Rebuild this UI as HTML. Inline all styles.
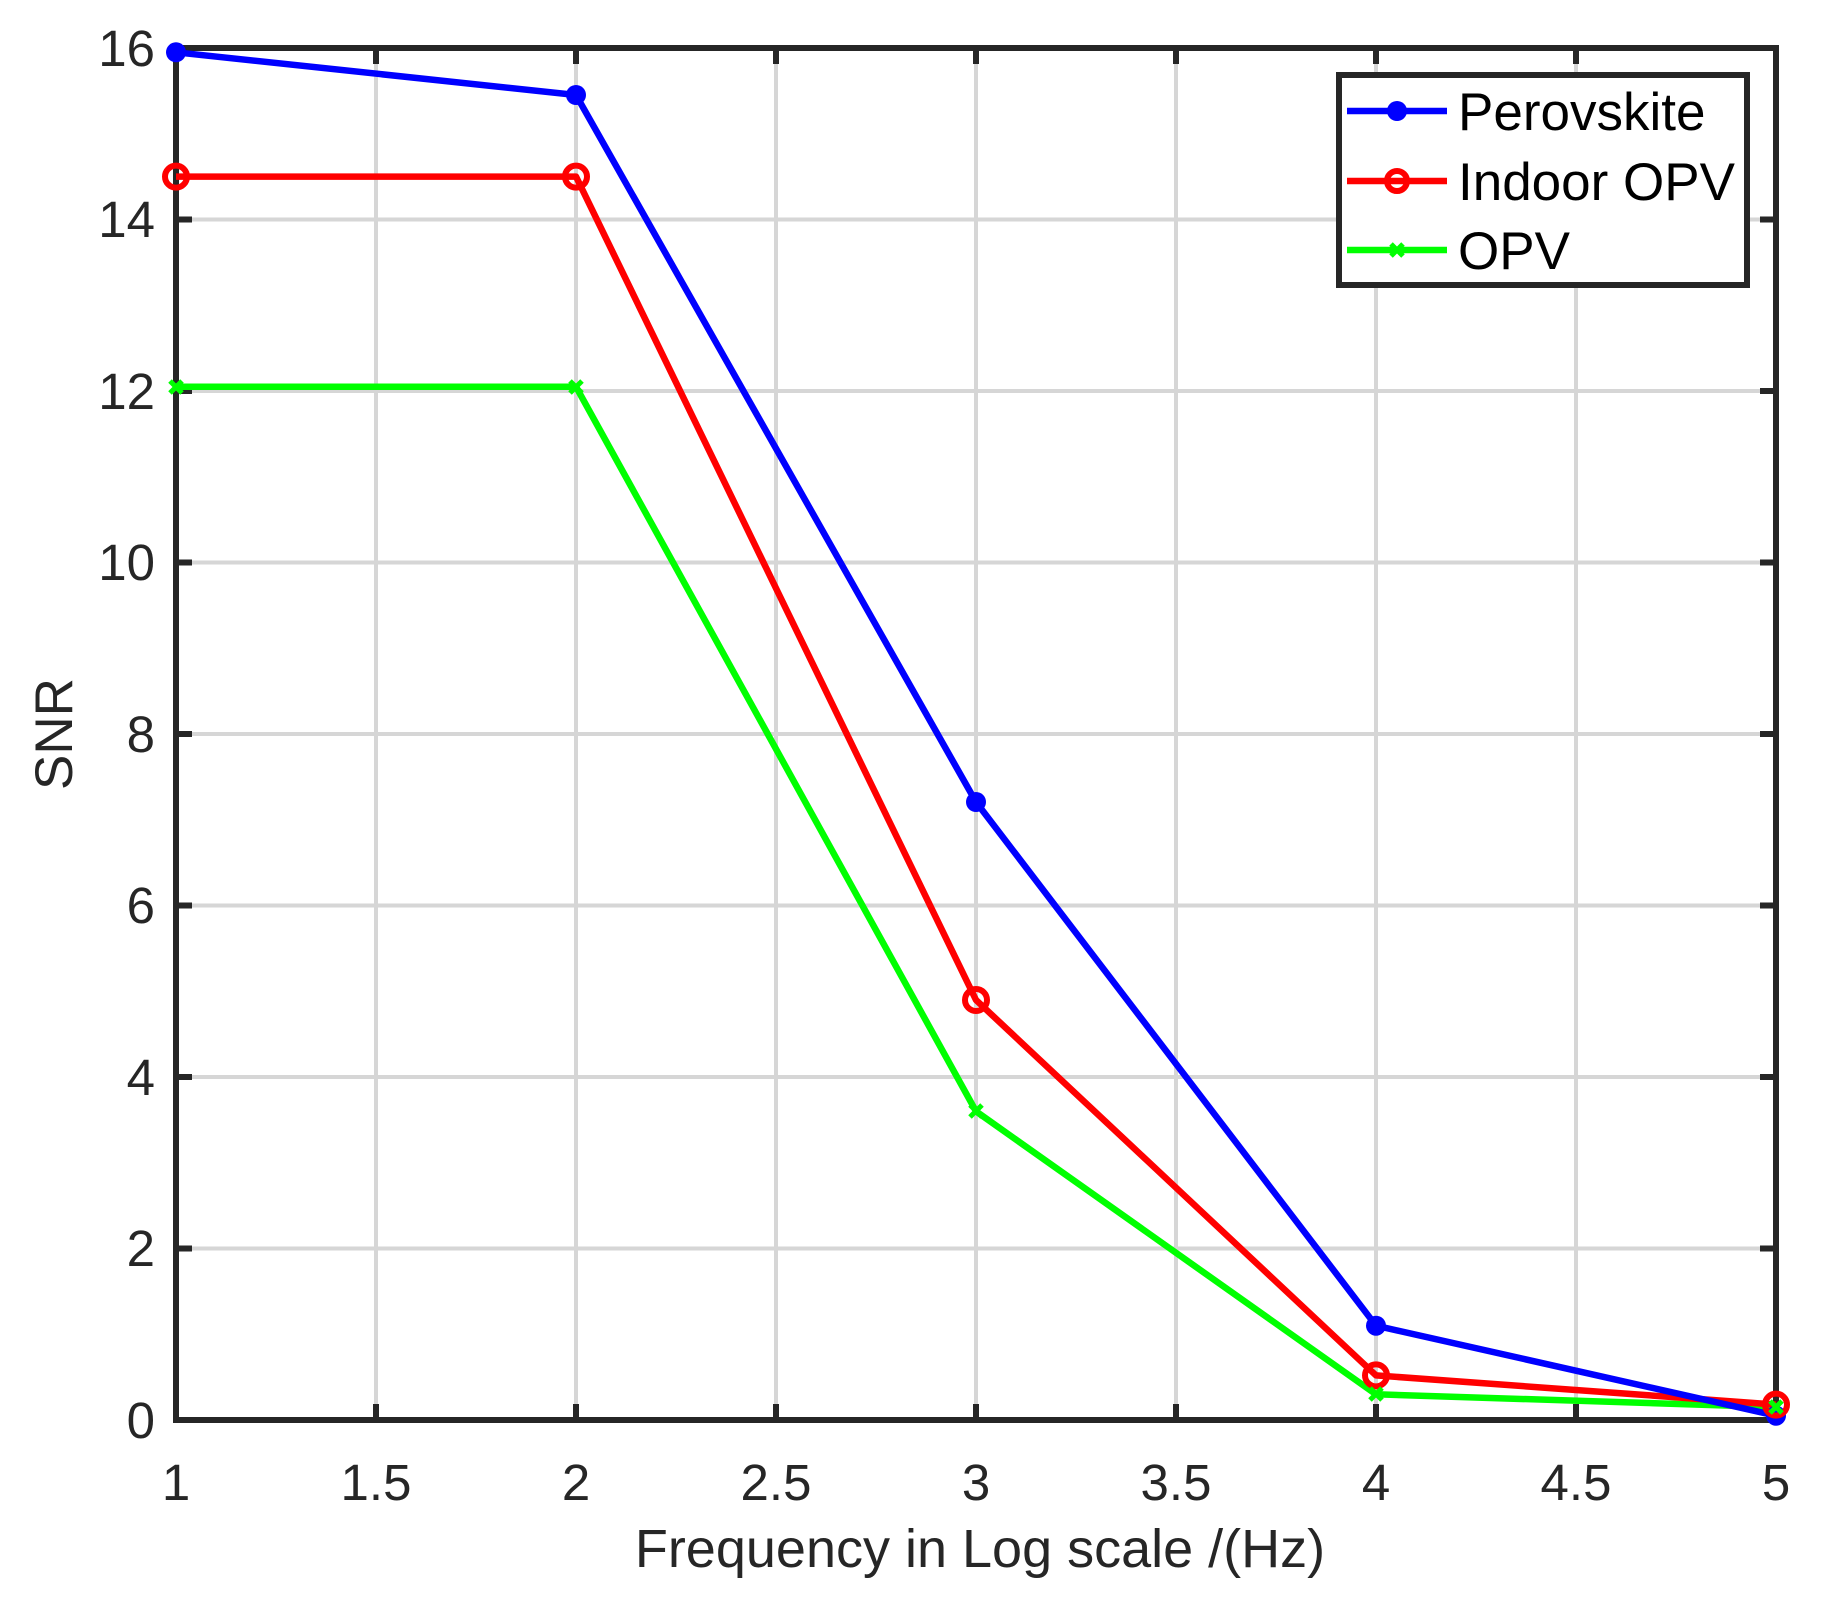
<!DOCTYPE html>
<html><head><meta charset="utf-8"><style>html,body{margin:0;padding:0;background:#fff}</style></head>
<body>
<svg width="1822" height="1608" xmlns="http://www.w3.org/2000/svg" font-family="Liberation Sans, Arial, sans-serif">
<rect width="1822" height="1608" fill="#fff"/>
<g stroke="#d6d6d6" stroke-width="4">
<line x1="376" y1="48" x2="376" y2="1420"/><line x1="576" y1="48" x2="576" y2="1420"/><line x1="776" y1="48" x2="776" y2="1420"/><line x1="976" y1="48" x2="976" y2="1420"/><line x1="1176" y1="48" x2="1176" y2="1420"/><line x1="1376" y1="48" x2="1376" y2="1420"/><line x1="1576" y1="48" x2="1576" y2="1420"/>
<line x1="176" y1="1248.5" x2="1776" y2="1248.5"/><line x1="176" y1="1077" x2="1776" y2="1077"/><line x1="176" y1="905.5" x2="1776" y2="905.5"/><line x1="176" y1="734" x2="1776" y2="734"/><line x1="176" y1="562.5" x2="1776" y2="562.5"/><line x1="176" y1="391" x2="1776" y2="391"/><line x1="176" y1="219.5" x2="1776" y2="219.5"/>
</g>
<g stroke="#262626" stroke-width="6">
<rect x="176" y="48" width="1600" height="1372" fill="none"/>
<path d="M376 1420v-16M576 1420v-16M776 1420v-16M976 1420v-16M1176 1420v-16M1376 1420v-16M1576 1420v-16M376 48v16M576 48v16M776 48v16M976 48v16M1176 48v16M1376 48v16M1576 48v16"/>
<path d="M176 1248.5h16M176 1077h16M176 905.5h16M176 734h16M176 562.5h16M176 391h16M176 219.5h16M1776 1248.5h-16M1776 1077h-16M1776 905.5h-16M1776 734h-16M1776 562.5h-16M1776 391h-16M1776 219.5h-16"/>
</g>
<g fill="none" stroke-width="6.5" stroke-linejoin="round">
<polyline stroke="#00ff00" points="176,386.7 576,386.7 976,1111.3 1376,1394.3 1776,1407.1"/>
<polyline stroke="#ff0000" points="176,176.6 576,176.6 976,1000.0 1376,1375.4 1776,1404.6"/>
<polyline stroke="#0000ff" points="176,52.3 576,95 976,802 1376,1325.7 1776,1415.7"/>
</g>
<g fill="#0000ff"><circle cx="176" cy="52.3" r="10"/><circle cx="576" cy="95" r="10"/><circle cx="976" cy="802" r="10"/><circle cx="1376" cy="1325.7" r="10"/><circle cx="1776" cy="1415.7" r="10"/></g>
<g fill="none" stroke="#ff0000" stroke-width="6"><circle cx="176" cy="176.6" r="11"/><circle cx="576" cy="176.6" r="11"/><circle cx="976" cy="1000" r="11"/><circle cx="1376" cy="1375.4" r="11"/><circle cx="1776" cy="1404.6" r="11"/></g>
<g stroke="#00ff00" stroke-width="5"><path d="M170 381l12 12M182 381l-12 12M570 381l12 12M582 381l-12 12M970 1105l12 12M982 1105l-12 12M1370 1388l12 12M1382 1388l-12 12M1770 1401l12 12M1782 1401l-12 12"/></g>
<g font-size="51" fill="#262626" text-anchor="end">
<text x="155" y="1438">0</text><text x="155" y="1266">2</text><text x="155" y="1095">4</text><text x="155" y="923">6</text><text x="155" y="752">8</text><text x="155" y="580">10</text><text x="155" y="409">12</text><text x="155" y="237">14</text><text x="155" y="66">16</text>
</g>
<g font-size="51" fill="#262626" text-anchor="middle">
<text x="176" y="1500">1</text><text x="376" y="1500">1.5</text><text x="576" y="1500">2</text><text x="776" y="1500">2.5</text><text x="976" y="1500">3</text><text x="1176" y="1500">3.5</text><text x="1376" y="1500">4</text><text x="1576" y="1500">4.5</text><text x="1776" y="1500">5</text>
<text x="980" y="1567" font-size="54">Frequency in Log scale /(Hz)</text>
<text transform="translate(72,734) rotate(-90)" font-size="53">SNR</text>
</g>
<rect x="1339" y="75" width="408" height="210" fill="#fff" stroke="#262626" stroke-width="6"/>
<line x1="1347" y1="111" x2="1447" y2="111" stroke="#0000ff" stroke-width="6.5"/><circle cx="1397" cy="111" r="10" fill="#0000ff"/>
<line x1="1347" y1="181" x2="1447" y2="181" stroke="#ff0000" stroke-width="6.5"/><circle cx="1397" cy="181" r="10" fill="none" stroke="#ff0000" stroke-width="6"/>
<line x1="1347" y1="250" x2="1447" y2="250" stroke="#00ff00" stroke-width="6.5"/><path d="M1391 244l12 12M1403 244l-12 12" stroke="#00ff00" stroke-width="5"/>
<g font-size="53" fill="#000"><text x="1458" y="130">Perovskite</text><text x="1458" y="200">Indoor OPV</text><text x="1458" y="269">OPV</text></g>
</svg>
</body></html>
